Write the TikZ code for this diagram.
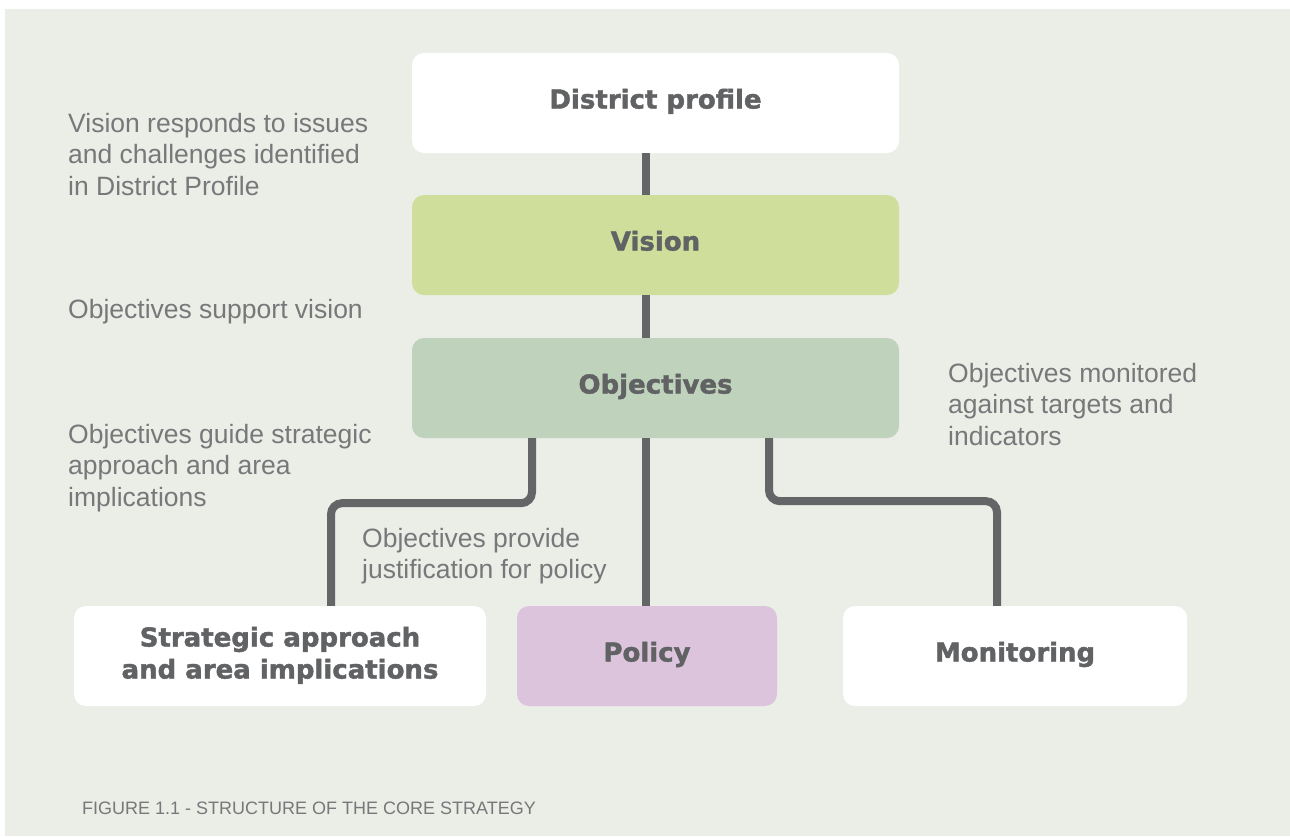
\documentclass[tikz,border=0pt]{standalone}
\usepackage{fontspec}
\setmainfont{Liberation Sans}
\newfontfamily\headfont{DejaVu Sans Bold}[FakeBold=1.6]
\definecolor{bgc}{HTML}{EBEDE7}
\definecolor{visc}{HTML}{D0DE9C}
\definecolor{objc}{HTML}{BFD2BB}
\definecolor{polc}{HTML}{DCC4DC}
\definecolor{linec}{HTML}{646567}
\definecolor{headc}{HTML}{616264}
\definecolor{txtc}{HTML}{77787A}
\begin{document}
\begin{tikzpicture}[x=1pt,y=-1pt,
  box/.style={rounded corners=12pt, minimum width=487pt, minimum height=100pt, inner sep=0pt,
    font=\headfont\fontsize{26}{32}\selectfont, text=headc, align=center,
    text height=19pt, text depth=8pt},
  conn/.style={draw=linec, line width=8pt},
  txt/.style={font=\fontsize{26.5}{31.5}\selectfont, text=txtc, align=left, inner sep=0pt, anchor=base west},
  captext/.style={font=\fontsize{18}{22}\selectfont, text=txtc, inner sep=0pt, anchor=base west}]
\useasboundingbox (0,0) rectangle (1290,836);
\fill[bgc] (5,9) rectangle (1290,836);
% boxes
\node[box, fill=white] (dist) at (655.5,103) {District profile};
\node[box, fill=visc] (vis) at (655.5,245) {Vision};
\node[box, fill=objc] (obj) at (655.5,388) {Objectives};
\node[box, fill=white, minimum width=412pt, text height=52pt, text depth=7pt] (strat) at (280,656) {Strategic approach\\and area implications};
\node[box, fill=polc, minimum width=260pt] (pol) at (647,656) {Policy};
\node[box, fill=white, minimum width=344pt] (mon) at (1015,656) {Monitoring};
% connectors
\draw[conn] ([xshift=-9.5pt]dist.south) -- ([xshift=-9.5pt]vis.north);
\draw[conn] ([xshift=-9.5pt]vis.south) -- ([xshift=-9.5pt]obj.north);
\draw[conn] ([xshift=-9.5pt]obj.south) -- ([xshift=-1pt]pol.north);
\draw[conn, rounded corners=11pt] ([xshift=-123.5pt]obj.south) -- ++(0,65) -| ([xshift=51pt]strat.north);
\draw[conn, rounded corners=11pt] ([xshift=113.5pt]obj.south) -- ++(0,63) -| ([xshift=-18pt]mon.north);
% labels (base anchor = baseline of the last line)
\node[txt] (t1) at (68,195) {Vision responds to issues\\and challenges identified\\in District Profile};
\node[txt] (t2) at (68,318) {Objectives support vision};
\node[txt] (t3) at (948,445) {Objectives monitored\\against targets and\\indicators};
\node[txt] (t4) at (68,506) {Objectives guide strategic\\approach and area\\implications};
\node[txt] (t5) at (362,578.5) {Objectives provide\\justification for policy};
\node[captext] (c1) at (82,814) {FIGURE 1.1 - STRUCTURE OF THE CORE STRATEGY};
\end{tikzpicture}
\end{document}
